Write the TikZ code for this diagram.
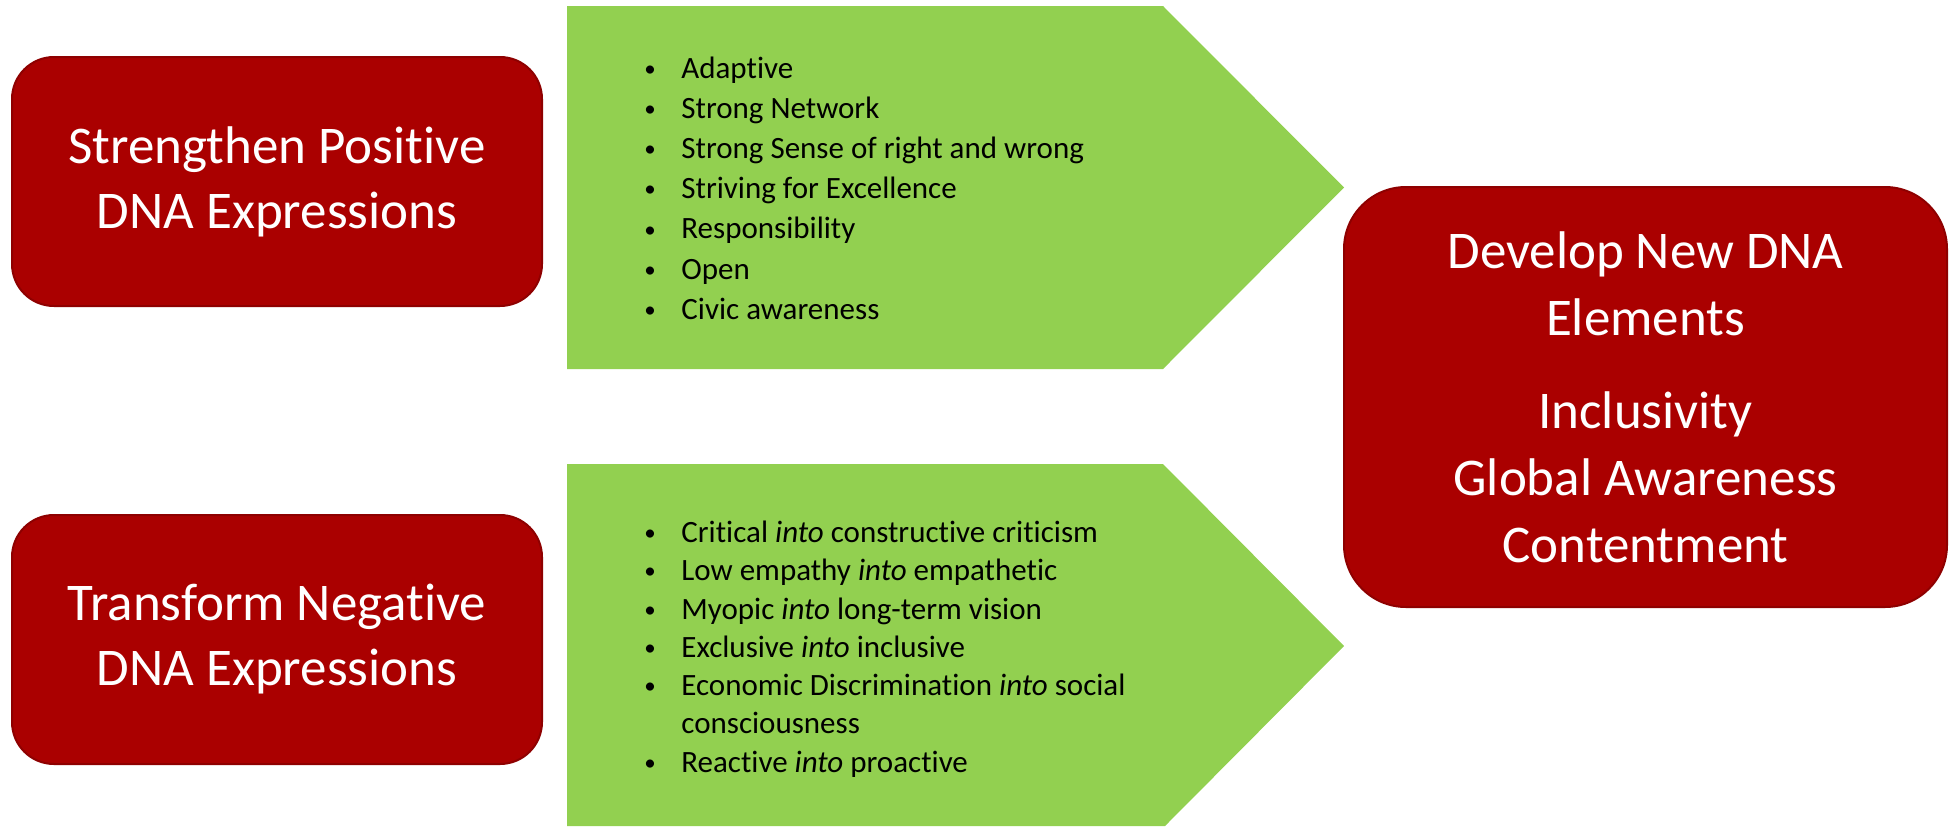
\documentclass[tikz,border=0pt]{standalone}
\usepackage{fontspec}
\setmainfont{Carlito}[Ligatures={NoCommon,NoContextual}]
\definecolor{boxred}{HTML}{AA0000}
\definecolor{boxedge}{HTML}{8E0000}
\definecolor{arrowgreen}{HTML}{92D050}
\begin{document}
\begin{tikzpicture}[x=0.5pt,y=-0.5pt,
  titlebox/.style={draw=boxedge, line width=1pt, fill=boxred, text=white,
    rounded corners=21pt, align=center, inner sep=0pt,
    font=\fontsize{26.5}{32.5}\selectfont},
  bul/.style={anchor=base, inner sep=0pt, font=\fontsize{11.5}{14}\selectfont, yshift=0.9pt},
  listitem/.style={anchor=base west, inner sep=0pt, font=\fontsize{15.5}{18}\selectfont}]
\useasboundingbox (0,0) rectangle (1951,826);
% green chevrons
\fill[arrowgreen] (567,6) -- (1163,6) -- (1344,187.5) -- (1163,369) -- (567,369) -- cycle;
\fill[arrowgreen] (567,464) -- (1163,464) -- (1344,646) -- (1165,826) -- (567,826) -- cycle;
% red boxes
\node[titlebox, minimum width=265pt, minimum height=124.5pt] (pos) at (277,181.5)
  {Strengthen Positive\\DNA Expressions};
\node[titlebox, minimum width=265pt, minimum height=124.5pt] (neg) at (277,639.5)
  {Transform Negative\\DNA Expressions};
\node[titlebox, minimum width=301.5pt, minimum height=210pt, rounded corners=31pt,
  font=\fontsize{26.5}{33.5}\selectfont] (new) at (1645.5,397)
  {Develop New DNA\\Elements\\[13pt]Inclusivity\\Global Awareness\\Contentment};
% first list
\foreach \t [count=\i] in {Adaptive, Strong Network, Strong Sense of right and wrong,
  Striving for Excellence, Responsibility, Open, Civic awareness}{
  \node[bul] (pb\i) at (650,{78+(\i-1)*40.2}) {•};
  \node[listitem] (pi\i) at (681,{78+(\i-1)*40.2}) {\t};
}
% second list
\node[bul] (nb1) at (650,542) {•};
\node[listitem] (ni1) at (681,542) {Critical \emph{into} constructive criticism};
\node[bul] (nb2) at (650,580) {•};
\node[listitem] (ni2) at (681,580) {Low empathy \emph{into} empathetic};
\node[bul] (nb3) at (650,619) {•};
\node[listitem] (ni3) at (681,619) {Myopic \emph{into} long-term vision};
\node[bul] (nb4) at (650,657) {•};
\node[listitem] (ni4) at (681,657) {Exclusive \emph{into} inclusive};
\node[bul] (nb5) at (650,695) {•};
\node[listitem] (ni5) at (681,695) {Economic Discrimination \emph{into} social};
\node[listitem] (ni5b) at (681,733) {consciousness};
\node[bul] (nb6) at (650,772) {•};
\node[listitem] (ni6) at (681,772) {Reactive \emph{into} proactive};
\end{tikzpicture}
\end{document}
